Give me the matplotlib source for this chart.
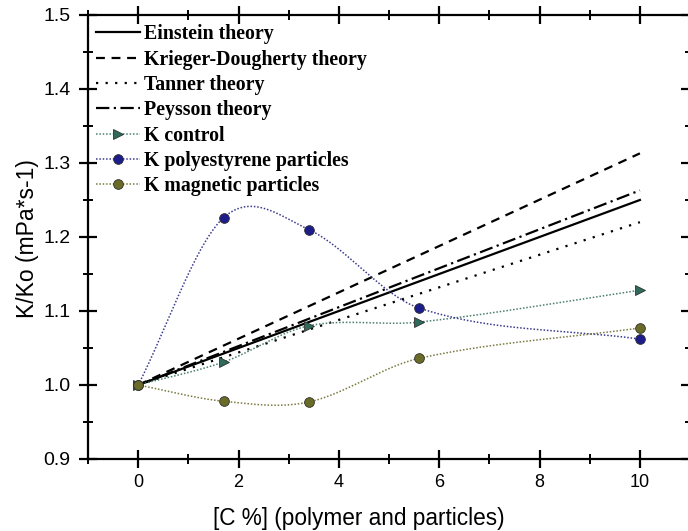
import numpy as np
import matplotlib
matplotlib.use("Agg")
import matplotlib.pyplot as plt
from matplotlib.ticker import MultipleLocator, FormatStrFormatter

# Concentration of added material, %
conc = [0, 1.7, 3.4, 5.6, 10]

# Theoretical predictions of relative viscosity
theory_x = [0, 10]
einstein = [1.0, 1.250]
krieger = [1.0, 1.313]
tanner = [1.0, 1.220]
peysson = [1.0, 1.263]

# Measured relative viscosity
k_control = [1.0, 1.031, 1.080, 1.085, 1.128]
k_polystyrene = [1.0, 1.226, 1.210, 1.104, 1.062]
k_magnetic = [1.0, 0.978, 0.977, 1.036, 1.077]


def smooth_curve(x, y, n=60):
    """Cubic Hermite curve through the points with finite-difference slopes."""
    x = np.asarray(x, float)
    y = np.asarray(y, float)
    m = np.empty_like(y)
    m[0] = (y[1] - y[0]) / (x[1] - x[0])
    m[-1] = (y[-1] - y[-2]) / (x[-1] - x[-2])
    m[1:-1] = (y[2:] - y[:-2]) / (x[2:] - x[:-2])
    xs_all, ys_all = [], []
    for i in range(len(x) - 1):
        h = x[i + 1] - x[i]
        t = np.linspace(0, 1, n)
        h00 = 2 * t**3 - 3 * t**2 + 1
        h10 = t**3 - 2 * t**2 + t
        h01 = -2 * t**3 + 3 * t**2
        h11 = t**3 - t**2
        xs_all.append(x[i] + t * h)
        ys_all.append(h00 * y[i] + h10 * h * m[i] + h01 * y[i + 1] + h11 * h * m[i + 1])
    return np.concatenate(xs_all), np.concatenate(ys_all)


plt.rcParams["font.family"] = ["Liberation Sans", "DejaVu Sans"]

fig = plt.figure(figsize=(6.88, 5.31), dpi=100)
ax = fig.add_axes([0.128, 0.1356, 0.875, 0.8362])

lw_theory = 1.6
ax.plot(theory_x, einstein, color="black", lw=lw_theory, ls="-",
        label="Einstein theory")
ax.plot(theory_x, krieger, color="black", lw=lw_theory, ls=(0, (4, 3)),
        label="Krieger-Dougherty theory")
ax.plot(theory_x, tanner, color="black", lw=lw_theory, ls=(0, (1, 3.3)),
        label="Tanner theory")
ax.plot(theory_x, peysson, color="black", lw=lw_theory, ls=(0, (6, 2, 1, 2)),
        label="Peysson theory")

series = [
    (k_control, ">", "#2e6b5a", "#4a7f72", "K control"),
    (k_polystyrene, "o", "#1c1c8a", "#3a3a8f", "K polyestyrene particles"),
    (k_magnetic, "o", "#6b6b28", "#7a7a40", "K magnetic particles"),
]
for vals, mk, mcol, lcol, lab in series:
    sx, sy = smooth_curve(conc, vals)
    ax.plot(sx, sy, color=lcol, lw=1.1, ls=(0, (1, 1.2)), zorder=2)
    ax.plot(conc, vals, ls="none", marker=mk, color=mcol, ms=7,
            mec="#303030", mew=0.6, zorder=3)
    ax.plot([], [], color=lcol, lw=1.1, ls=(0, (1, 1.2)), marker=mk,
            mfc=mcol, mec="#303030", mew=0.6, ms=7, label=lab)

ax.set_xlim(-1, 11)
ax.set_ylim(0.9, 1.5)
ax.xaxis.set_major_locator(MultipleLocator(2))
ax.xaxis.set_minor_locator(MultipleLocator(1))
ax.yaxis.set_major_locator(MultipleLocator(0.1))
ax.yaxis.set_minor_locator(MultipleLocator(0.05))
ax.yaxis.set_major_formatter(FormatStrFormatter("%.1f"))

for s in ax.spines.values():
    s.set_linewidth(1.6)
ax.tick_params(which="major", direction="inout", length=13, width=1.6,
               labelsize=13, top=True, right=True, pad=2)
ax.tick_params(which="minor", direction="inout", length=7, width=1.4,
               top=True, right=True)
ax.tick_params(axis="x", which="major", pad=4)
ax.tick_params(axis="y", which="major", labelsize=14, pad=6)

ax.set_xlabel("[C %] (polymer and particles)", fontsize=16.3)
ax.xaxis.set_label_coords(0.449, -0.107)
ax.set_ylabel("K/Ko (mPa*s-1)", fontsize=16.5)
ax.yaxis.set_label_coords(-0.081, 0.497)

leg = ax.legend(loc="upper left", bbox_to_anchor=(0.0, 0.997), frameon=False,
                prop={"family": "Liberation Serif", "weight": "bold",
                      "size": 14.3},
                handlelength=2.2, handletextpad=0.2, labelspacing=0.27,
                borderaxespad=0.2, borderpad=0.2)

fig.savefig("out.png", dpi=100, facecolor="white")
